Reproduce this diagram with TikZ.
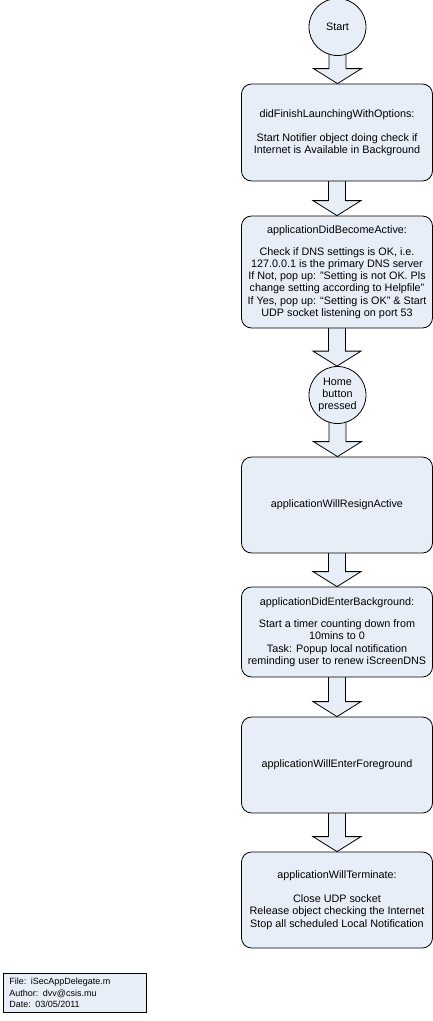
\documentclass[tikz,border=0pt]{standalone}
\usepackage{fontspec}
\setmainfont{Liberation Sans}
\usetikzlibrary{calc,backgrounds}
\definecolor{boxfill}{HTML}{E8EEF7}
\newcommand\flowarrow[2]{%
  \begin{pgfonlayer}{background}
  \path[barrow] let \p1=(#1.south), \p2=(#2.north) in
    (\x1-8.5pt,\y1+5pt) -- (\x1-8.5pt,\y2+15pt) -- (\x1-24pt,\y2+15pt) --
    (\x1,\y2) -- (\x1+24pt,\y2+15pt) -- (\x1+8.5pt,\y2+15pt) -- (\x1+8.5pt,\y1+5pt);
  \end{pgfonlayer}}
\begin{document}
\begin{tikzpicture}[x=1pt,y=-1pt,
  every node/.style={font=\fontsize{10.8}{12.2}\selectfont},
  stepbox/.style={draw=black, line width=0.8pt, fill=boxfill, rounded corners=10pt,
    minimum width=191pt, align=center, inner sep=2pt},
  stepcircle/.style={draw=black, line width=0.8pt, fill=boxfill, circle,
    minimum size=57pt, inner sep=0pt, align=center},
  barrow/.style={draw=black, line width=0.8pt, fill=boxfill, line join=miter},
  notebox/.style={draw=black, line width=0.7pt, fill=boxfill, anchor=north west,
    minimum width=143pt, minimum height=39pt, text width=131pt, inner xsep=6pt,
    align=left, font=\fontsize{9}{11.5}\selectfont}]
\useasboundingbox (0,0) rectangle (433,1021);

\node[stepcircle] (start) at (337.5,27) {Start};
\node[stepbox, minimum height=97pt] (b1) at (337,132.5)
  {didFinishLaunchingWithOptions:\\[12pt]
   Start Notifier object doing check if\\
   Internet is Available in Background};
\node[stepbox, minimum height=112pt] (b2) at (337,272)
  {applicationDidBecomeActive:\\[10pt]
   Check if DNS settings is OK, i.e.\\
   127.0.0.1 is the primary DNS server\\
   If Not, pop up: "Setting is not OK. Pls\\
   change setting according to Helpfile"\\
   If Yes, pop up: “Setting is OK” \& Start\\
   UDP socket listening on port 53};
\node[stepcircle] (home) at (337.5,395) {Home\\button\\pressed};
\node[stepbox, minimum height=96pt] (b3) at (337,505) {applicationWillResignActive};
\node[stepbox, minimum height=90pt] (b4) at (337,632)
  {applicationDidEnterBackground:\\[10pt]
   Start a timer counting down from\\
   10mins to 0\\
   Task: Popup local notification\\
   reminding user to renew iScreenDNS};
\node[stepbox, minimum height=96pt] (b5) at (337,765) {applicationWillEnterForeground};
\node[stepbox, minimum height=96pt] (b6) at (337,900)
  {applicationWillTerminate:\\[12pt]
   Close UDP socket\\
   Release object checking the Internet\\
   Stop all scheduled Local Notification};

\node[notebox] (note) at (3,973)
  {File: iSecAppDelegate.m\\Author: dvv@csis.mu\\Date: 03/05/2011};

\flowarrow{start}{b1}
\flowarrow{b1}{b2}
\flowarrow{b2}{home}
\flowarrow{home}{b3}
\flowarrow{b3}{b4}
\flowarrow{b4}{b5}
\flowarrow{b5}{b6}
\end{tikzpicture}
\end{document}
